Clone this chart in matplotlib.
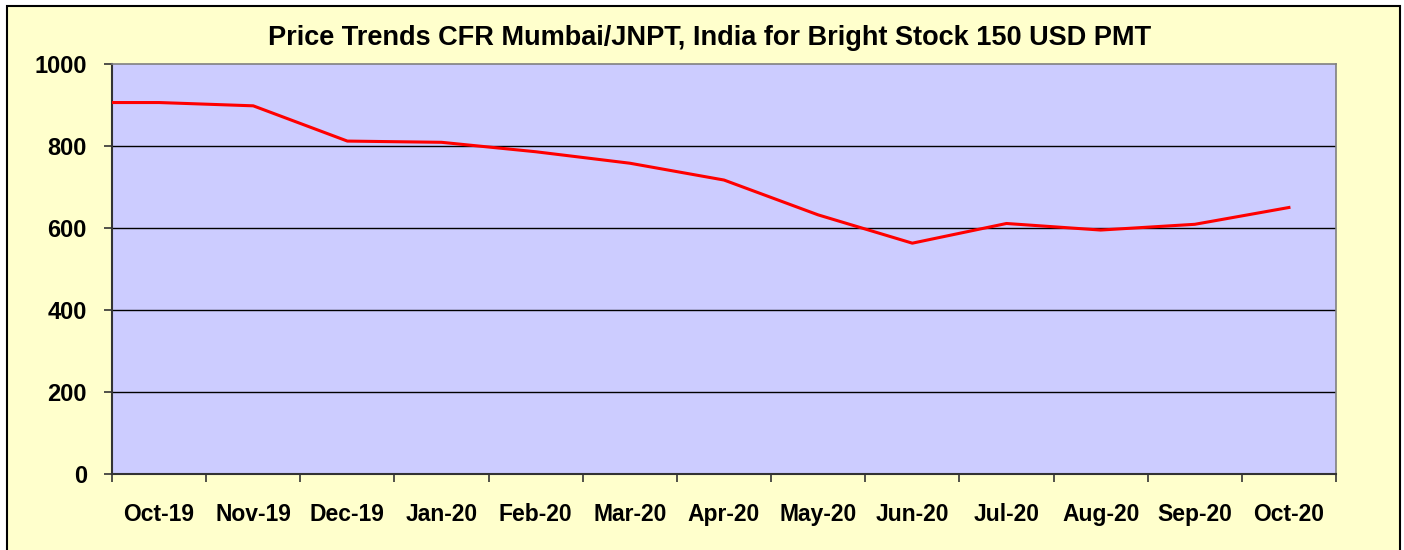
import matplotlib
matplotlib.use("Agg")
import matplotlib.pyplot as plt
from matplotlib.patches import Rectangle

months = ["Oct-19", "Nov-19", "Dec-19", "Jan-20", "Feb-20", "Mar-20", "Apr-20",
          "May-20", "Jun-20", "Jul-20", "Aug-20", "Sep-20", "Oct-20"]
prices = [906, 898, 812, 809, 786, 758, 717, 632, 563, 611, 595, 609, 650]
yticks = [0, 200, 400, 600, 800, 1000]
title = "Price Trends CFR Mumbai/JNPT, India for Bright Stock 150 USD PMT"

plt.rcParams['font.family'] = ['Liberation Sans', 'DejaVu Sans']
plt.rcParams['font.weight'] = 'bold'

W, H = 1404, 550
fig = plt.figure(figsize=(W / 100, H / 100), dpi=100)
fig.patch.set_facecolor("white")
bg = Rectangle((7 / W, -0.02), (1400 - 7) / W, 1 - 6 / H + 0.02,
               transform=fig.transFigure, facecolor="#FFFFCC",
               edgecolor="black", linewidth=1.5, zorder=-10)
fig.add_artist(bg)

ax = fig.add_axes([112 / W, 1 - 474 / H, (1336 - 112) / W, (474 - 64) / H])
ax.set_zorder(5)
ax.set_facecolor("#CCCCFF")
n = len(months)
xs = [-0.5] + list(range(n))
ys = [prices[0]] + prices
ax.plot(xs, ys, color="#FF0000", linewidth=2.2, zorder=3)

ax.set_xlim(-0.5, n - 0.5)
ax.set_ylim(0, 1000)
ax.set_yticks(yticks)
ax.set_yticklabels([str(v) for v in yticks], fontsize=17, fontweight="bold")
for v in yticks[1:-1]:
    ax.axhline(v, color="black", linewidth=1.0, zorder=2)

ax.set_xticks(range(n))
ax.set_xticklabels(months, fontsize=16.5, fontweight="bold")
ax.set_xticks([i - 0.5 for i in range(n + 1)], minor=True)
ax.tick_params(axis="x", which="major", length=0, pad=21)
ax.tick_params(axis="x", which="minor", length=6, width=1.2, color="#333333", direction="out")
ax.tick_params(axis="y", which="major", length=6, width=1.2, color="#333333", pad=12)

for s in ["top", "right"]:
    ax.spines[s].set_color("#808080")
    ax.spines[s].set_linewidth(1.2)
for s in ["left", "bottom"]:
    ax.spines[s].set_color("#333333")
    ax.spines[s].set_linewidth(1.5)

fig.text(710 / W, 1 - 38 / H, title, ha="center", va="center",
         fontsize=19.5, fontweight="bold")

fig.savefig("out.png", dpi=100, facecolor=fig.get_facecolor())
